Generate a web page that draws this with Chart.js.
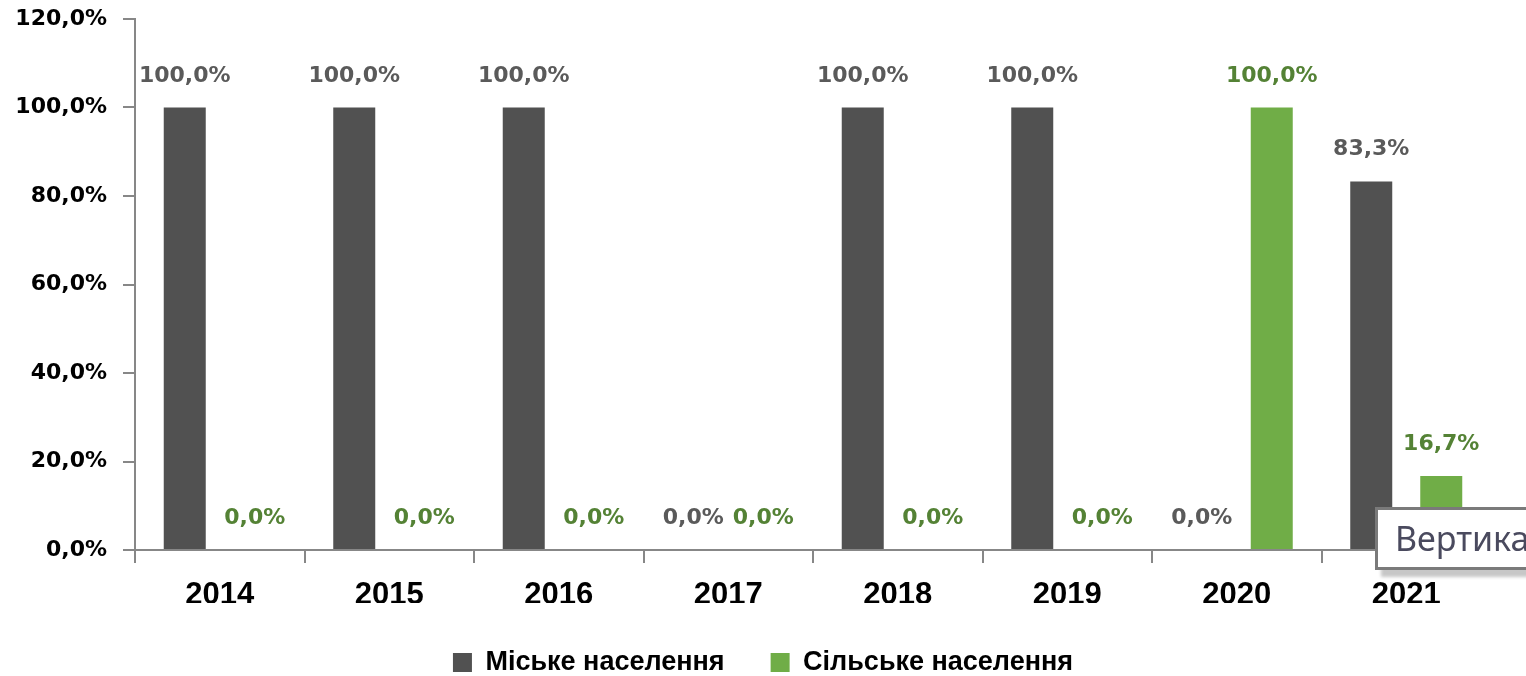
<!DOCTYPE html>
<html>
<head>
<meta charset="utf-8">
<script src="https://cdn.jsdelivr.net/npm/chart.js@4.4.1/dist/chart.umd.min.js"></script>
<style>
  html, body { margin: 0; padding: 0; background: #fff; overflow: hidden; width: 1526px; height: 676px; }
  #wrap { position: relative; width: 1526px; height: 676px; overflow: hidden; }
  #tip { position: absolute; left: 1375px; top: 507px; width: 220px; height: 57px;
         border: 3px solid #7a7a7a; background: #fff; box-shadow: 6px 7px 3px rgba(0,0,0,0.22);
         font-family: "Noto Sans", sans-serif; font-size: 34px; color: #4a4a5e;
         line-height: 57px; padding-left: 17px; box-sizing: content-box; white-space: nowrap; }
</style>
</head>
<body>
<div id="wrap">
  <canvas id="c" width="1526" height="676"></canvas>
  <div id="tip">Вертика</div>
</div>
<script>
const categories = ['2014', '2015', '2016', '2017', '2018', '2019', '2020', '2021'];
const seriesNames = ['Міське населення', 'Сільське населення'];
const urban = [100, 100, 100, 0, 100, 100, 0, 83.3];
const rural = [0, 0, 0, 0, 0, 0, 100, 16.7];
const yMin = 0, yMax = 120, yStep = 20;

const fmt = v => v.toFixed(1).replace('.', ',') + '%';
const axisGrey = '#878787';

const labelPlugin = {
  id: 'barLabels',
  afterDatasetsDraw(chart) {
    const ctx = chart.ctx;
    ctx.save();
    ctx.font = 'bold 22px "DejaVu Sans"';
    ctx.textAlign = 'center';
    ctx.textBaseline = 'alphabetic';
    chart.data.datasets.forEach((ds, di) => {
      const meta = chart.getDatasetMeta(di);
      ctx.fillStyle = ds.labelColor;
      meta.data.forEach((el, i) => {
        ctx.fillText(fmt(ds.data[i]), el.x, el.y - 26);
      });
    });
    ctx.restore();
  }
};

new Chart(document.getElementById('c'), {
  type: 'bar',
  data: {
    labels: categories,
    datasets: [
      { label: seriesNames[0], data: urban, backgroundColor: '#515151', labelColor: '#5a5a5a',
        categoryPercentage: 0.826, barPercentage: 0.6 },
      { label: seriesNames[1], data: rural, backgroundColor: '#70ad47', labelColor: '#548235',
        categoryPercentage: 0.826, barPercentage: 0.6 }
    ]
  },
  options: {
    responsive: false,
    animation: false,
    devicePixelRatio: 1,
    layout: { padding: { left: 0, right: 0, top: 19, bottom: 0 } },
    plugins: {
      tooltip: { enabled: false },
      legend: {
        position: 'bottom',
        maxHeight: 73,
        labels: {
          boxWidth: 19, boxHeight: 19, padding: 46,
          color: '#000',
          font: { family: '"Liberation Sans"', size: 27, weight: 'bold' }
        }
      }
    },
    scales: {
      x: {
        grid: { display: true, offset: true, drawOnChartArea: false, drawTicks: true,
                tickLength: 13, color: axisGrey, lineWidth: 2 },
        border: { display: true, color: axisGrey, width: 2 },
        ticks: { color: '#000', padding: 14, maxRotation: 0, autoSkip: false,
                 font: { family: '"Liberation Sans"', size: 31, weight: 'bold' } },
        afterFit(s) { s.height = 53; }
      },
      y: {
        min: yMin, max: yMax,
        grid: { display: true, drawOnChartArea: false, drawTicks: true,
                tickLength: 12, color: axisGrey, lineWidth: 2 },
        border: { display: true, color: axisGrey, width: 2 },
        ticks: { stepSize: yStep, color: '#000', padding: 16, callback: v => fmt(v),
                 font: { family: '"DejaVu Sans"', size: 22, weight: 'bold' } },
        afterFit(s) { s.width = 135; s.paddingTop = 0; }
      },
      yR: {
        position: 'right', display: true,
        grid: { display: false }, border: { display: false },
        ticks: { display: false },
        afterFit(s) { s.width = 35; s.paddingTop = 0; }
      }
    }
  },
  plugins: [labelPlugin]
});
</script>
</body>
</html>
